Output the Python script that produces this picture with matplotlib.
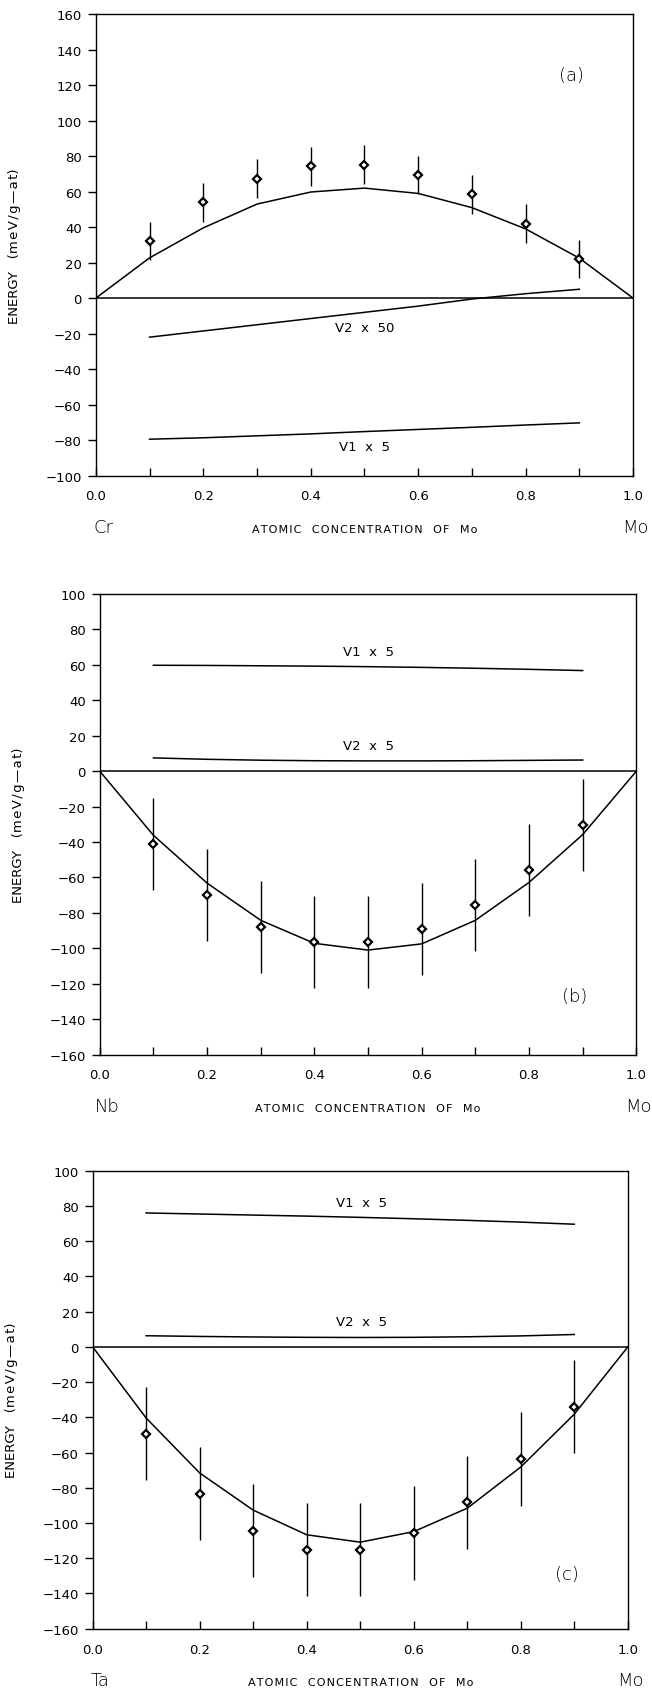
import numpy as np
import matplotlib.pyplot as plt
from matplotlib.ticker import MultipleLocator

plt.rcParams['font.family'] = ['DejaVu Sans']

x_calc = [0.0, 0.1, 0.2, 0.3, 0.4, 0.5, 0.6, 0.7, 0.8, 0.9, 1.0]
x_pts = [0.1, 0.2, 0.3, 0.4, 0.5, 0.6, 0.7, 0.8, 0.9]

# panel (a): Cr-Mo
a_calc = [0, 22.7, 39.6, 53.0, 59.8, 62.0, 59.0, 51.0, 39.0, 22.5, 0]
a_pts = [32.4, 54.0, 67.4, 74.3, 75.2, 69.5, 58.5, 42.0, 22.0]
a_err = [10.7, 11.0, 11.0, 11.0, 11.0, 10.7, 11.0, 11.0, 10.8]
a_v1 = [-79.5, -78.7, -77.6, -76.5, -75.2, -74.0, -72.8, -71.5, -70.3]
a_v2 = [-22.0, -18.5, -15.0, -11.5, -8.0, -4.5, -0.5, 2.5, 5.0]

# panel (b): Nb-Mo
b_calc = [0, -36.2, -63.2, -84.2, -97.2, -101.0, -97.5, -84.2, -62.8, -35.8, 0]
b_pts = [-41.0, -69.8, -87.8, -96.4, -96.4, -89.2, -75.4, -56.0, -30.4]
b_err = [26.0] * 9
b_v1 = [59.8, 59.7, 59.5, 59.3, 59.0, 58.6, 58.1, 57.5, 56.8]
b_v2 = [7.5, 6.7, 6.2, 5.9, 5.8, 5.8, 5.9, 6.1, 6.3]

# panel (c): Ta-Mo
c_calc = [0, -40.4, -71.6, -92.7, -106.7, -110.9, -104.9, -91.6, -68.2, -38.2, 0]
c_pts = [-49.3, -83.3, -104.4, -115.1, -115.1, -105.6, -88.2, -63.6, -34.0]
c_err = [26.5] * 9
c_v1 = [76.0, 75.4, 74.8, 74.2, 73.5, 72.7, 71.8, 70.8, 69.6]
c_v2 = [6.3, 5.9, 5.6, 5.4, 5.3, 5.4, 5.7, 6.2, 7.0]

panels = [
    dict(rect=[0.147, 0.718, 0.824, 0.273], ylim=(-100, 160), calc=a_calc,
         pts=a_pts, err=a_err, v1=a_v1, v2=a_v2, v1_lab=(0.5, -83.4),
         v2_lab=(0.5, -16.4), v2_text='V2  x  50', tag='(a)', tag_pos=(0.885, 126),
         left='Cr'),
    dict(rect=[0.153, 0.3754, 0.823, 0.2725], ylim=(-160, 100), calc=b_calc,
         pts=b_pts, err=b_err, v1=b_v1, v2=b_v2, v1_lab=(0.5, 67.6),
         v2_lab=(0.5, 14.6), v2_text='V2  x  5', tag='(b)', tag_pos=(0.885, -126.8),
         left='Nb'),
    dict(rect=[0.142, 0.0357, 0.821, 0.271], ylim=(-160, 100), calc=c_calc,
         pts=c_pts, err=c_err, v1=c_v1, v2=c_v2, v1_lab=(0.502, 82),
         v2_lab=(0.502, 14.4), v2_text='V2  x  5', tag='(c)', tag_pos=(0.886, -129),
         left='Ta'),
]


def spaced(s, gap='\u200a'):
    # wide letter spacing like the original plotter lettering
    return gap.join(s)


ylab = 'ENERGY   (' + spaced('meV/g\u2014at') + ')'
xlab = '   '.join(spaced(w) for w in ['ATOMIC', 'CONCENTRATION', 'OF', 'Mo'])

fig = plt.figure(figsize=(6.52, 16.9), dpi=100)

for p in panels:
    ax = fig.add_axes(p['rect'])
    ax.set_xlim(0, 1)
    ax.set_ylim(*p['ylim'])
    ax.axhline(0, color='black', lw=1.1)
    ax.plot(x_calc, p['calc'], color='black', lw=1.1)
    ax.plot(x_pts, p['v1'], color='black', lw=1.1)
    ax.plot(x_pts, p['v2'], color='black', lw=1.1)
    ax.errorbar(x_pts, p['pts'], yerr=p['err'], fmt='D', ms=4, mfc='white',
                mec='black', mew=1.6, ecolor='black', elinewidth=1.0, capsize=0)

    ax.text(*p['v1_lab'], 'V1  x  5', ha='center', va='center', fontsize=9.5)
    ax.text(*p['v2_lab'], p['v2_text'], ha='center', va='center', fontsize=9.5)
    ax.text(*p['tag_pos'], p['tag'], ha='center', va='center', fontsize=13,
            fontweight='light')

    ax.xaxis.set_major_locator(MultipleLocator(0.2))
    ax.xaxis.set_minor_locator(MultipleLocator(0.1))
    ax.yaxis.set_major_locator(MultipleLocator(20))
    ax.xaxis.set_major_formatter(plt.FuncFormatter(lambda v, _: f'{v:.1f}'))
    ax.yaxis.set_major_formatter(plt.FuncFormatter(lambda v, _: f'{v:.0f}'.replace('-', '\u2212')))
    ax.tick_params(axis='x', which='both', direction='in', length=6, width=1,
                   pad=10, labelsize=9.5)
    ax.tick_params(axis='y', direction='out', length=6, width=1, pad=4,
                   labelsize=9.5)
    for s in ax.spines.values():
        s.set_linewidth(1.0)

    ax.set_ylabel(ylab, fontsize=9.5)
    ax.yaxis.set_label_coords(-0.14, 0.5)

    ax.text(0.5, -0.116, xlab, transform=ax.transAxes,
            ha='center', va='center', fontsize=8)
    ax.text(0.014, -0.112, p['left'], transform=ax.transAxes, ha='center',
            va='center', fontsize=13, fontweight='light')
    ax.text(1.004, -0.112, 'Mo', transform=ax.transAxes, ha='center',
            va='center', fontsize=13, fontweight='light')

fig.savefig('out.png', dpi=100)
